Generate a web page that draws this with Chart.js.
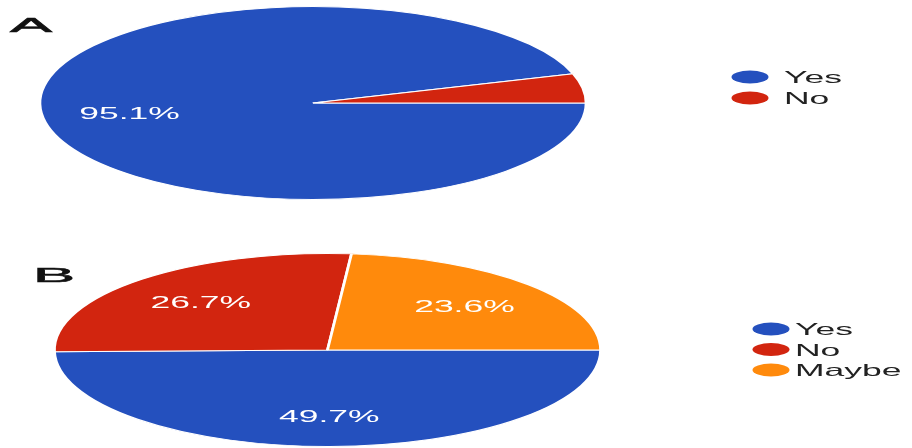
<!DOCTYPE html>
<html>
<head>
<meta charset="utf-8">
<script src="https://cdn.jsdelivr.net/npm/chart.js@4"></script>
<style>
  html, body { margin: 0; padding: 0; background: #fff; }
  #wrap { position: relative; width: 912px; height: 448px; overflow: hidden; }
  canvas { position: absolute; left: 0; }
</style>
</head>
<body>
<div id="wrap">
  <canvas id="pieA" width="912" height="224" style="top:0;width:912px;height:224px"></canvas>
  <canvas id="pieB" width="912" height="224" style="top:224px;width:912px;height:224px"></canvas>
</div>
<script>
// answers, in percent
const labelsA = ['Yes', 'No'];
const valuesA = [95.1, 4.9];

const labelsB = ['Yes', 'No', 'Maybe'];
const valuesB = [49.7, 26.7, 23.6];

const BLUE = '#2450be';
const RED = '#d2250f';
const ORANGE = '#ff8a0c';

const PIE_STRETCH = 2.83;   // pies are drawn as wide ellipses
const LABEL_STRETCH = 2.15;
const TITLE_STRETCH = 3.0;
const MIN_LABEL = 5;        // slices smaller than this get no % label
const FONT = '"Liberation Sans", Arial, sans-serif';

const stretchText = (ctx, text, x, y, sx) => {
  ctx.save()
  ctx.translate(x, y)
  ctx.scale(sx, 1)
  ctx.fillText(text, 0, 0)
  ctx.restore()
}

// squash the arcs horizontally around the pie centre, then write the texts
const ellipsePlugin = {
  id: 'ellipsePie',
  beforeDatasetsDraw(chart) {
    const arc = chart.getDatasetMeta(0).data[0]
    const ctx = chart.ctx
    ctx.save()
    ctx.translate(arc.x, 0)
    ctx.scale(PIE_STRETCH, 1)
    ctx.translate(-arc.x, 0)
  },
  afterDatasetsDraw(chart) {
    const ctx = chart.ctx
    ctx.restore()

    const meta = chart.getDatasetMeta(0)
    const values = chart.data.datasets[0].data
    ctx.save()
    ctx.fillStyle = '#fff'
    ctx.font = '16.5px ' + FONT
    ctx.textAlign = 'center'
    ctx.textBaseline = 'alphabetic'
    meta.data.forEach((arc, i) => {
      if (values[i] < MIN_LABEL) return
      const p = arc.getProps(['x', 'y', 'startAngle', 'endAngle', 'outerRadius'])
      const mid = (p.startAngle + p.endAngle) / 2
      const d = p.outerRadius * 0.68
      const x = p.x + Math.cos(mid) * d * PIE_STRETCH
      const y = p.y + Math.sin(mid) * d
      stretchText(ctx, values[i].toFixed(1) + '%', x, y + 6, LABEL_STRETCH)
    })
    ctx.restore()
  },
  afterDraw(chart, args, opts) {
    const ctx = chart.ctx
    ctx.save()

    // panel letter
    ctx.fillStyle = '#111'
    ctx.font = '21px ' + FONT
    ctx.textAlign = 'left'
    ctx.textBaseline = 'alphabetic'
    ctx.lineWidth = 0.6
    ctx.strokeStyle = '#111'
    ctx.save()
    ctx.translate(opts.titleX, opts.titleY)
    ctx.scale(TITLE_STRETCH, 1)
    ctx.fillText(opts.title, 0, 0)
    ctx.strokeText(opts.title, 0, 0)
    ctx.restore()

    // legend
    const ds = chart.data.datasets[0]
    ctx.font = '16.5px ' + FONT
    chart.data.labels.forEach((lab, i) => {
      const y = opts.legendY + i * opts.legendGap
      ctx.fillStyle = ds.backgroundColor[i]
      ctx.beginPath()
      ctx.ellipse(opts.legendX, y, 18.5, 6.5, 0, 0, Math.PI * 2)
      ctx.fill()
      ctx.fillStyle = '#222'
      stretchText(ctx, lab, opts.legendX + opts.textGap, y + 6, LABEL_STRETCH)
    })
    ctx.restore()
  }
}

const criaPizza = (id, labels, values, colors, padding, extras) => {
  new Chart(document.getElementById(id), {
    type: 'pie',
    data: {
      labels: labels,
      datasets: [{
        data: values,
        backgroundColor: colors,
        borderColor: '#fff',
        borderWidth: 1,
        clip: false
      }]
    },
    options: {
      responsive: false,
      animation: false,
      rotation: 90,
      layout: { padding: padding },
      plugins: {
        legend: { display: false },
        tooltip: { enabled: false },
        ellipsePie: extras
      }
    },
    plugins: [ellipsePlugin]
  })
}

criaPizza('pieA', labelsA, valuesA, [BLUE, RED],
  { top: 6, bottom: 24, left: 216, right: 502 },
  { title: 'A', titleX: 10, titleY: 32, legendX: 750, legendY: 77, legendGap: 21, textGap: 34 })

criaPizza('pieB', labelsB, valuesB, [BLUE, RED, ORANGE],
  { top: 29, bottom: 1, left: 230, right: 487 },
  { title: 'B', titleX: 33, titleY: 58, legendX: 771, legendY: 105, legendGap: 20.5, textGap: 24 })
</script>
</body>
</html>
